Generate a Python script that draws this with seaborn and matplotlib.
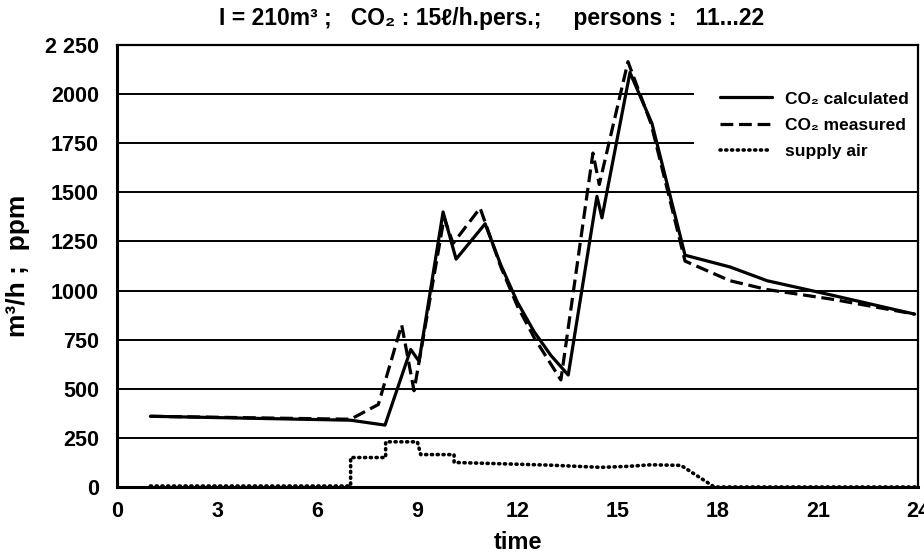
import numpy as np
import pandas as pd
import matplotlib
matplotlib.use('Agg')
import matplotlib.pyplot as plt
import seaborn as sns

# CO2 calculated (ppm) over time (h)
t_calc = [1.0, 7.0, 8.03, 8.8, 9.05, 9.77, 10.16, 11.03, 11.5, 12.0, 12.5, 13.0, 13.52,
          14.38, 14.53, 15.37, 16.03, 17.02, 18.37, 19.48, 21.46, 23.9]
co2_calc = [360, 340, 315, 700, 640, 1400, 1160, 1340, 1130, 940, 790, 670, 570,
            1480, 1370, 2110, 1850, 1180, 1120, 1050, 975, 880]

# CO2 measured (ppm)
t_meas = [1.0, 7.0, 7.83, 8.53, 8.9, 9.8, 10.07, 10.88, 11.5, 12.0, 12.5, 13.3,
          14.26, 14.45, 15.31, 16.0, 17.02, 18.37, 19.48, 21.46, 23.9]
co2_meas = [360, 345, 420, 825, 490, 1370, 1240, 1420, 1120, 920, 760, 545,
            1700, 1540, 2165, 1850, 1150, 1050, 1005, 955, 880]

# supply air (m3/h)
t_supply = [1.0, 7.0, 7.0, 8.05, 8.05, 9.0, 9.1, 10.1, 10.1, 12.0, 13.0, 14.5,
            15.3, 16.0, 16.9, 17.9, 24.0]
supply = [5, 5, 150, 150, 230, 230, 165, 165, 125, 116, 111, 100,
          105, 113, 110, 0, 0]

x_ticks = [0, 3, 6, 9, 12, 15, 18, 21, 24]
y_ticks = [0, 250, 500, 750, 1000, 1250, 1500, 1750, 2000, 2250]
y_labels = ['0', '250', '500', '750', '1000', '1250', '1500', '1750', '2000', '2 250']

sns.set_style('white')
plt.rcParams['font.family'] = ['Liberation Sans', 'DejaVu Sans']
plt.rcParams['font.weight'] = 'bold'
for key in ['text.color', 'axes.labelcolor', 'xtick.color', 'ytick.color']:
    plt.rcParams[key] = 'black'

fig = plt.figure(figsize=(9.24, 5.59), dpi=100)
ax = fig.add_axes([117/924, 1-487/559, 801/924, 442/559])

# horizontal grid lines, upper two stop short of the legend
for v in y_ticks[1:-1]:
    xmax = 17.3 if v >= 1750 else 24
    ax.hlines(v, 0, xmax, color='black', linewidth=1.4, zorder=1)

df_calc = pd.DataFrame({'time': t_calc, 'value': co2_calc})
df_meas = pd.DataFrame({'time': t_meas, 'value': co2_meas})
df_sup = pd.DataFrame({'time': t_supply, 'value': supply})

sns.lineplot(data=df_calc, x='time', y='value', ax=ax, color='black', linewidth=2.3,
             estimator=None, sort=False, label='CO\u2082 calculated', zorder=3)
sns.lineplot(data=df_meas, x='time', y='value', ax=ax, color='black', linewidth=2.3,
             estimator=None, sort=False, label='CO\u2082 measured', zorder=3,
             dashes=False, linestyle=(0, (4, 1.8)))
sns.lineplot(data=df_sup, x='time', y='value', ax=ax, color='black', linewidth=2.6,
             estimator=None, sort=False, label='supply air', zorder=3,
             linestyle=(0, (0.3, 1.3)), dash_capstyle='round', clip_on=False)

ax.set_xlim(0, 24)
ax.set_ylim(0, 2250)
ax.set_xticks(x_ticks)
ax.set_yticks(y_ticks)
ax.set_yticklabels(y_labels)
ax.tick_params(axis='x', direction='out', length=8, width=1.6, labelsize=15.5, pad=2)
ax.tick_params(axis='y', direction='inout', length=10, width=1.6, labelsize=15.5, pad=8)
for side in ['left', 'bottom']:
    ax.spines[side].set_linewidth(2.2)
    ax.spines[side].set_color('black')
for side in ['top', 'right']:
    ax.spines[side].set_linewidth(1.6)
    ax.spines[side].set_color('black')

ax.set_xlabel('time', fontsize=17, fontweight='bold')
ax.xaxis.set_label_coords(0.5, -0.10)
ax.set_ylabel('m\u00b3/h ;  ppm', fontsize=19, fontweight='bold')
ax.yaxis.set_label_coords(-0.108, 0.5)

fig.text(492/924, 1-18/559,
         'I = 210m\u00b3 ;   CO\u2082 : 15\u2113/h.pers.;     persons :   11...22',
         ha='center', va='center', fontsize=16.5, fontweight='bold')

ax.legend(loc='upper left', bbox_to_anchor=(0.753, 0.895), frameon=False,
          fontsize=12.5, handlelength=3.0, handletextpad=0.75, labelspacing=0.65,
          borderpad=0, borderaxespad=0)

fig.savefig('out.png', dpi=100)
